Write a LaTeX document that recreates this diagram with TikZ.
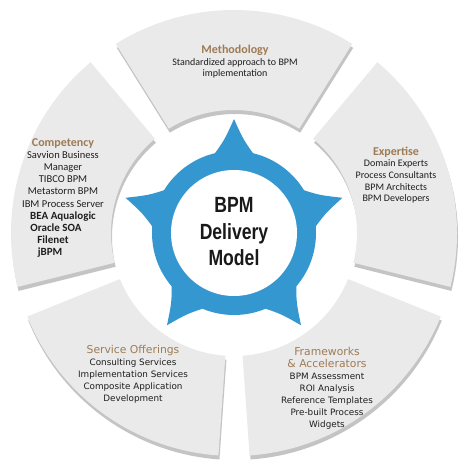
\documentclass[tikz,border=0pt]{standalone}
\usepackage{fontspec}
\setmainfont{Carlito}
\newfontfamily\verdfont{DejaVu Sans}
\newfontfamily\arialfont{Liberation Sans}

\definecolor{sectorgray}{HTML}{EAEAEA}
\definecolor{shadegray}{HTML}{C4C4C4}
\definecolor{bpmblue}{HTML}{3597CF}
\definecolor{titlebrown}{HTML}{9E7B55}
\definecolor{bodytext}{HTML}{1E1E1E}

\newcommand{\sectitle}[1]{{\color{titlebrown}\bfseries\fontsize{12}{14}\selectfont #1}}
\newcommand{\sectitleb}[1]{{\color{titlebrown}\fontsize{10.8}{12}\selectfont #1}}
\newcommand{\boldline}[1]{{\bfseries\fontsize{11}{12.1}\selectfont #1}}

\begin{document}
\begin{tikzpicture}[x=1pt, y=1pt,
    sector/.style={fill=sectorgray},
    sectorshade/.style={fill=shadegray},
    spike/.style={fill=bpmblue},
    label/.style={align=center, text=bodytext, inner sep=0pt}]
  \useasboundingbox (-234,-233) rectangle (234,233);
  % ring of five sectors
  \foreach \c in {18,90,162,234,306}
    \fill[sectorshade, shift={(1,-4)}] (\c-32:123pt) arc[start angle=\c-32, end angle=\c+32, radius=123pt]
      -- (\c+32:223pt) arc[start angle=\c+32, end angle=\c-32, radius=223pt] -- cycle;
  \foreach \c in {18,90,162,234,306}
    \fill[sector] (\c-32:123pt) arc[start angle=\c-32, end angle=\c+32, radius=123pt]
      -- (\c+32:223pt) arc[start angle=\c+32, end angle=\c-32, radius=223pt] -- cycle;
  % blue star ring
  \fill[bpmblue] (0,0) circle[radius=82pt];
  \foreach \c in {18,90,162,234,306}
    \fill[spike] (\c-18:77pt) .. controls (\c-6:93pt) .. (\c:114pt)
      .. controls (\c+6:93pt) .. (\c+18:77pt) -- cycle;
  \fill[white] (0,0) circle[radius=63pt];

  \node[font=\arialfont\bfseries\fontsize{22}{26.5}\selectfont, align=center,
        text=black!90, xscale=0.8] (core) at (0,1) {BPM\\Delivery\\Model};

  \node[label, font=\fontsize{10}{11.5}\selectfont] (meth) at (1,171)
    {\sectitle{Methodology}\\Standardized approach to BPM\\implementation};
  \node[label, font=\fontsize{10.5}{12.1}\selectfont] (comp) at (-171,35)
    {\sectitle{Competency}\\Savvion Business\\Manager\\TIBCO BPM\\Metastorm BPM\\IBM Process Server\\
     \boldline{BEA Aqualogic}\\\hspace*{-14pt}\boldline{Oracle SOA}\\\hspace*{-20pt}\boldline{Filenet}\\
     \hspace*{-26pt}\boldline{jBPM}};
  \node[label, font=\fontsize{10}{11.7}\selectfont] (expe) at (162,58)
    {\sectitle{Expertise}\\Domain Experts\\Process Consultants\\BPM Architects\\BPM Developers};
  \node[label, font=\verdfont\fontsize{8.8}{12}\selectfont] (serv) at (-101,-141)
    {\sectitleb{Service Offerings}\\Consulting Services\\Implementation Services\\Composite Application\\Development};
  \node[label, font=\verdfont\fontsize{8.8}{12}\selectfont] (fram) at (93,-155)
    {\sectitleb{Frameworks}\\\sectitleb{\& Accelerators}\\BPM Assessment\\ROI Analysis\\Reference Templates\\Pre-built Process\\Widgets};
\end{tikzpicture}
\end{document}
